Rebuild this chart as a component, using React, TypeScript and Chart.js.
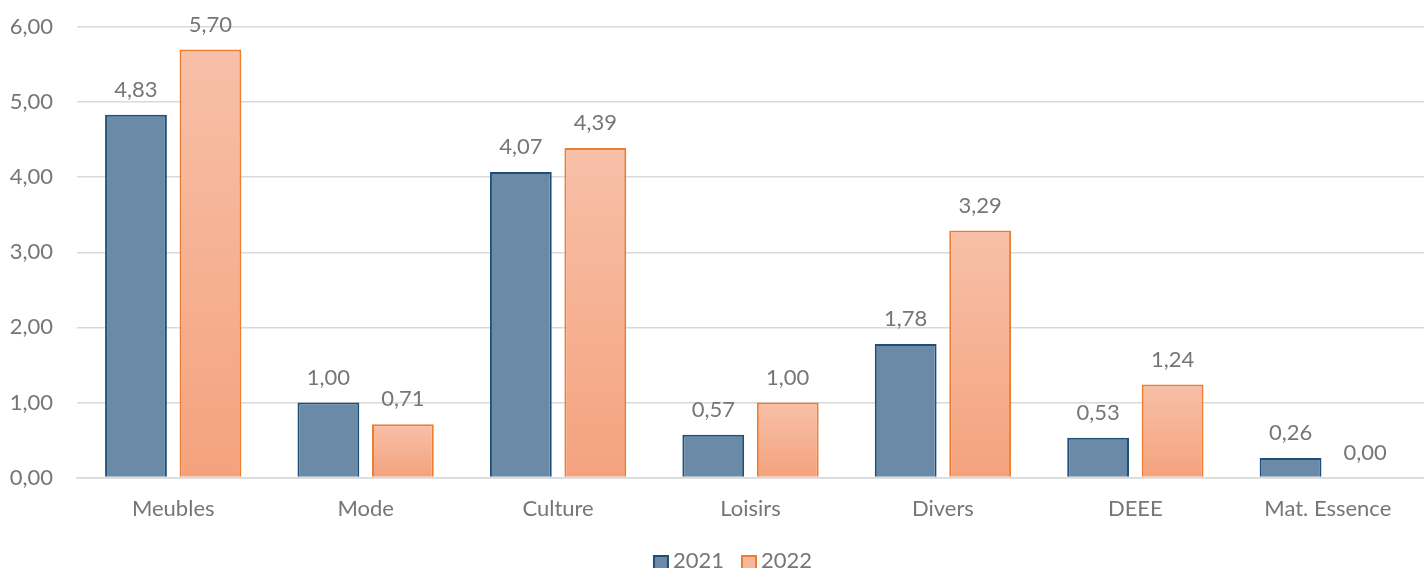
import React, { useEffect, useRef } from "react";
import { Chart, registerables } from "chart.js";

Chart.register(...registerables);

const categories = ["Meubles", "Mode", "Culture", "Loisirs", "Divers", "DEEE", "Mat. Essence"];
const values2021 = [4.83, 1.0, 4.07, 0.57, 1.78, 0.53, 0.26];
const values2022 = [5.7, 0.71, 4.39, 1.0, 3.29, 1.24, 0.0];
const seriesNames = ["2021", "2022"];
const yTicks = [0, 1, 2, 3, 4, 5, 6];

const FONT = "Lato, 'Open Sans', sans-serif";
const TEXT = "#767676";
const FS = 22;

const BLUE_FILL = "#6A8AA8";
const BLUE_LINE = "#1F4E79";
const ORANGE_FILL = "#F6B89C";
const ORANGE_LINE = "#ED7D31";

const fmt = (v: number) => v.toFixed(2).replace(".", ",");

const labelPlugin = {
  id: "valueLabels",
  afterDatasetsDraw(chart: any) {
    const c = chart.ctx;
    c.save();
    c.font = `${FS}px ${FONT}`;
    c.fillStyle = TEXT;
    c.textAlign = "center";
    c.textBaseline = "middle";
    chart.data.datasets.forEach((ds: any, i: number) => {
      const meta = chart.getDatasetMeta(i);
      meta.data.forEach((el: any, j: number) => {
        c.fillText(fmt(ds.data[j]), el.x, el.y - 25);
      });
    });
    c.restore();
  },
};

const legendPlugin = {
  id: "customLegend",
  afterDraw(chart: any) {
    const c = chart.ctx;
    const items = [
      { text: seriesNames[0], fill: BLUE_FILL, line: BLUE_LINE },
      { text: seriesNames[1], fill: ORANGE_FILL, line: ORANGE_LINE },
    ];
    c.save();
    c.font = `${FS}px ${FONT}`;
    c.textBaseline = "middle";
    c.textAlign = "left";
    const box = 14;
    const gapBoxText = 5;
    const gapItems = 18;
    const widths = items.map((it) => box + gapBoxText + c.measureText(it.text).width);
    const total = widths.reduce((a, b) => a + b, 0) + gapItems * (items.length - 1);
    let x = chart.width / 2 + 21 - total / 2;
    const yText = 561;
    const yBox = 556;
    items.forEach((it, i) => {
      c.fillStyle = it.fill;
      c.fillRect(x, yBox, box, box);
      c.strokeStyle = it.line;
      c.lineWidth = 2;
      c.strokeRect(x, yBox, box, box);
      c.fillStyle = TEXT;
      c.fillText(it.text, x + box + gapBoxText, yText);
      x += widths[i] + gapItems;
    });
    c.restore();
  },
};

function orangeGradient(ctx: any) {
  const chart = ctx.chart;
  const y = chart.scales && chart.scales.y;
  if (!y || ctx.type !== "data") return "#F5AE8F";
  const top = y.getPixelForValue(ctx.raw);
  const bottom = y.getPixelForValue(0);
  if (!isFinite(top) || !isFinite(bottom) || Math.abs(bottom - top) < 1) return "#F5AE8F";
  const g = chart.ctx.createLinearGradient(0, top, 0, bottom);
  g.addColorStop(0, "#F7C0A8");
  g.addColorStop(1, "#F4A27D");
  return g;
}

export default function App() {
  const ref = useRef<HTMLCanvasElement>(null);
  useEffect(() => {
    document.body.style.margin = "0";
    const chart = new Chart(ref.current!, {
      type: "bar",
      data: {
        labels: categories,
        datasets: [
          {
            label: seriesNames[0],
            data: values2021,
            backgroundColor: BLUE_FILL,
            borderColor: BLUE_LINE,
            borderWidth: 2,
            categoryPercentage: 0.774,
            barPercentage: 0.83,
          },
          {
            label: seriesNames[1],
            data: values2022,
            backgroundColor: orangeGradient,
            borderColor: ORANGE_LINE,
            borderWidth: 2,
            categoryPercentage: 0.774,
            barPercentage: 0.83,
          },
        ],
      },
      options: {
        responsive: false,
        animation: false,
        layout: { padding: { top: 27, right: 0, left: 0, bottom: 36 } },
        plugins: {
          tooltip: { enabled: false },
          legend: { display: false },
        },
        scales: {
          x: {
            grid: { display: false },
            border: { color: "#D9D9D9", width: 1.5 },
            ticks: { font: { size: FS, family: FONT }, color: TEXT, padding: 10 },
            afterFit: (axis: any) => {
              axis.paddingLeft = 0;
              axis.paddingRight = 0;
            },
          },
          y: {
            min: yTicks[0],
            max: yTicks[yTicks.length - 1],
            afterBuildTicks: (axis: any) => {
              axis.ticks = yTicks.map((v) => ({ value: v }));
            },
            afterFit: (axis: any) => {
              axis.width = 77;
              axis.paddingTop = 0;
              axis.paddingBottom = 0;
            },
            grid: { color: "#D9D9D9", lineWidth: 1.5, drawTicks: false },
            border: { display: false },
            ticks: {
              font: { size: FS, family: FONT },
              color: TEXT,
              padding: 24,
              callback: (v: any) => fmt(Number(v)),
            },
          },
        },
      },
      plugins: [labelPlugin, legendPlugin],
    } as any);
    return () => chart.destroy();
  }, []);
  return <canvas ref={ref} width={1424} height={568} style={{ display: "block" }} />;
}
